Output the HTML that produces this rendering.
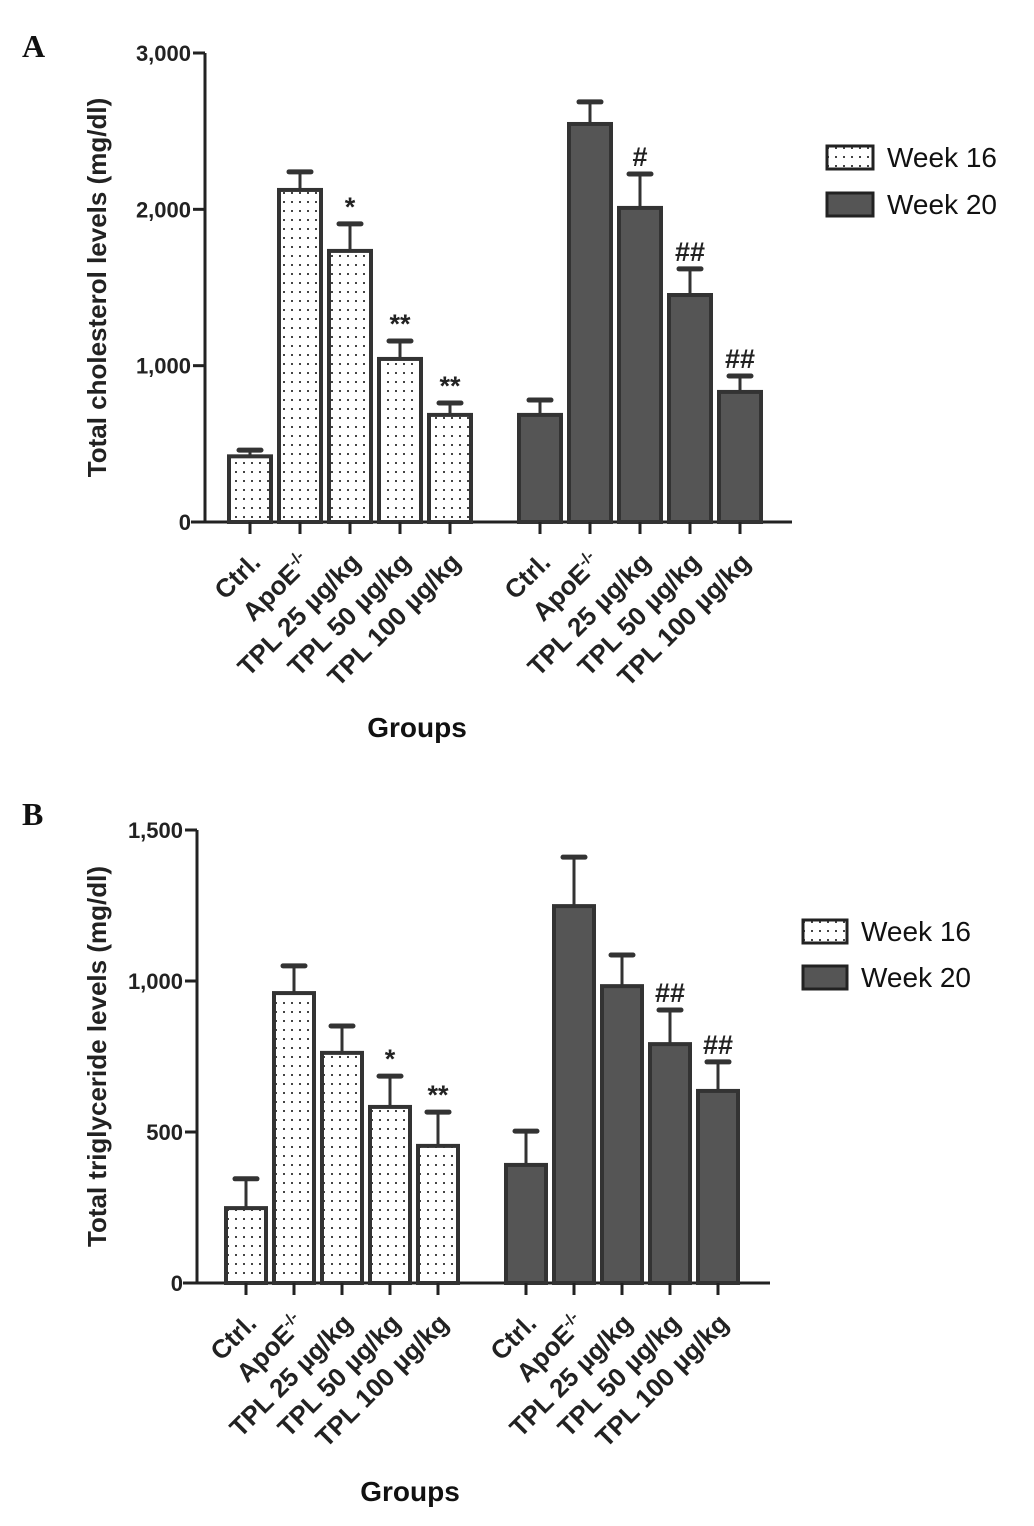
<!DOCTYPE html>
<html><head><meta charset="utf-8"><style>
body{margin:0;background:#fff;}
svg{display:block;font-family:"Liberation Sans",Arial,sans-serif;}
</style></head><body>
<svg id="chart" width="1034" height="1526" viewBox="0 0 1034 1526" xmlns="http://www.w3.org/2000/svg">
<defs>
<pattern id="dots" width="8" height="9" patternUnits="userSpaceOnUse"><rect width="8" height="9" fill="#fff"/><rect x="3" y="3" width="2" height="2" fill="#444"/></pattern>
</defs>
</svg>
<script>
const categories = ["Ctrl.", "ApoE", "TPL 25 µg/kg", "TPL 50 µg/kg", "TPL 100 µg/kg"];
const cholW16 = [420, 2124, 1734, 1043, 685];
const cholW16Err = [460, 2240, 1907, 1158, 761];
const cholW20 = [685, 2546, 2009, 1452, 832];
const cholW20Err = [780, 2687, 2226, 1619, 934];
const cholW16Marks = ["", "", "*", "**", "**"];
const cholW20Marks = ["", "", "#", "##", "##"];
const cholTicks = [0, 1000, 2000, 3000];
const cholTickLabels = ["0", "1,000", "2,000", "3,000"];
const trigW16 = [248, 960, 762, 583, 454];
const trigW16Err = [345, 1050, 851, 685, 566];
const trigW20 = [391, 1248, 983, 791, 636];
const trigW20Err = [503, 1410, 1086, 904, 732];
const trigW16Marks = ["", "", "", "*", "**"];
const trigW20Marks = ["", "", "", "##", "##"];
const trigTicks = [0, 500, 1000, 1500];
const trigTickLabels = ["0", "500", "1,000", "1,500"];

const svg = document.getElementById('chart');
const NS = 'http://www.w3.org/2000/svg';
function mk(tag, attrs, parent) {
  const e = document.createElementNS(NS, tag);
  for (const k in attrs) e.setAttribute(k, attrs[k]);
  (parent || svg).appendChild(e);
  return e;
}

function panel(cfg) {
  const g = mk('g', {});
  
  
  const y = v => cfg.y0 - (v / cfg.ymax) * (cfg.y0 - cfg.y1);
  const ya = mk('line', {x1: cfg.ax, x2: cfg.ax, y1: cfg.y1, y2: cfg.y0 + 1, stroke: '#222', 'stroke-width': 3}, g);
  
  
  const xa = mk('line', {x1: cfg.ax - 14, x2: cfg.xend, y1: cfg.y0, y2: cfg.y0, stroke: '#222', 'stroke-width': 3}, g);
  
  
  cfg.ticks.forEach((t, i) => {
    mk('line', {x1: cfg.ax - 12, x2: cfg.ax, y1: y(t), y2: y(t), stroke: '#222', 'stroke-width': 3}, g);
    const tl = mk('text', {x: cfg.ax - 14, y: y(t) + 8, 'text-anchor': 'end', 'font-size': 22, 'font-weight': 'bold', fill: '#222'}, g);
    tl.textContent = cfg.tickLabels[i];
    
    
  });
  const yt = mk('text', {transform: `translate(${cfg.titleX},${(cfg.y0 + cfg.y1) / 2}) rotate(-90)`, 'text-anchor': 'middle', 'font-size': 26, 'font-weight': 'bold', fill: '#222'}, g);
  yt.textContent = cfg.title;
  
  
  const series = [
    {vals: cfg.w16, err: cfg.w16e, marks: cfg.m16, start: cfg.s16, fill: 'url(#dots)', name: 'week16'},
    {vals: cfg.w20, err: cfg.w20e, marks: cfg.m20, start: cfg.s20, fill: '#555', name: 'week20'}
  ];
  series.forEach(s => {
    s.vals.forEach((v, i) => {
      const cx = s.start + i * cfg.step;
      const bw = cfg.bw;
      const ey = y(s.err[i]);
      mk('line', {x1: cx, x2: cx, y1: ey, y2: y(v), stroke: '#333', 'stroke-width': 3}, g);
      mk('line', {x1: cx - 11, x2: cx + 11, y1: ey, y2: ey, stroke: '#333', 'stroke-width': 5, 'stroke-linecap': 'round'}, g);
      const r = mk('rect', {x: cx - bw / 2, y: y(v), width: bw, height: cfg.y0 - y(v), fill: s.fill, stroke: '#333', 'stroke-width': 4}, g);
      
      
      mk('line', {x1: cx, x2: cx, y1: cfg.y0, y2: cfg.y0 + 12, stroke: '#222', 'stroke-width': 3}, g);
      if (s.marks[i]) {
        const m = mk('text', {x: cx, y: ey - 8, 'text-anchor': 'middle', 'font-size': 27, 'font-weight': 'bold', fill: '#222'}, g);
        m.textContent = s.marks[i];
        
        
      }
      const lx = cx + 12, ly = cfg.y0 + 42;
      const lab = mk('text', {transform: `translate(${lx},${ly}) rotate(-45)`, 'text-anchor': 'end', 'font-size': 26, 'font-weight': 'bold', fill: '#222'}, g);
      if (i === 1) {
        lab.textContent = categories[i];
        const sup = mk('tspan', {'font-size': 16, dy: -10}, lab);
        sup.textContent = '-/-';
      } else lab.textContent = categories[i];
      
      
    });
  });
  const gt = mk('text', {x: cfg.groupsX, y: cfg.groupsY, 'text-anchor': 'middle', 'font-size': 28, 'font-weight': 'bold', fill: '#111'}, g);
  gt.textContent = 'Groups';
  
  
  const pl = mk('text', {x: 22, y: cfg.letterY, 'font-size': 32, 'font-weight': 'bold', 'font-family': '"Liberation Serif",serif', fill: '#111'}, g);
  pl.textContent = cfg.letter;
  
  
  [['Week 16', 'url(#dots)'], ['Week 20', '#555']].forEach((L, k) => {
    const ly = cfg.legY + k * cfg.legGap;
    const b = mk('rect', {x: cfg.legX, y: ly, width: cfg.legW, height: 23, fill: L[1], stroke: '#222', 'stroke-width': 3}, g);
    
    
    const t = mk('text', {x: cfg.legX + cfg.legW + 14, y: ly + 21, 'font-size': 28, fill: '#111'}, g);
    t.textContent = L[0];
    
    
  });
}

panel({name: 'panel-a-cholesterol', ax: 205, y0: 522, y1: 53, ymax: 3000, xend: 792, ticks: cholTicks, tickLabels: cholTickLabels,
  title: 'Total cholesterol levels (mg/dl)', titleX: 106, w16: cholW16, w16e: cholW16Err, w20: cholW20, w20e: cholW20Err,
  m16: cholW16Marks, m20: cholW20Marks, s16: 250, s20: 540, step: 50, bw: 42, groupsX: 417, groupsY: 737, letter: 'A', letterY: 57,
  legX: 827, legY: 146, legGap: 47, legW: 46});
panel({name: 'panel-b-triglyceride', ax: 197, y0: 1283, y1: 830, ymax: 1500, xend: 770, ticks: trigTicks, tickLabels: trigTickLabels,
  title: 'Total triglyceride levels (mg/dl)', titleX: 106, w16: trigW16, w16e: trigW16Err, w20: trigW20, w20e: trigW20Err,
  m16: trigW16Marks, m20: trigW20Marks, s16: 246, s20: 526, step: 48, bw: 40, groupsX: 410, groupsY: 1501, letter: 'B', letterY: 825,
  legX: 803, legY: 920, legGap: 46, legW: 44});
</script>
</body></html>
